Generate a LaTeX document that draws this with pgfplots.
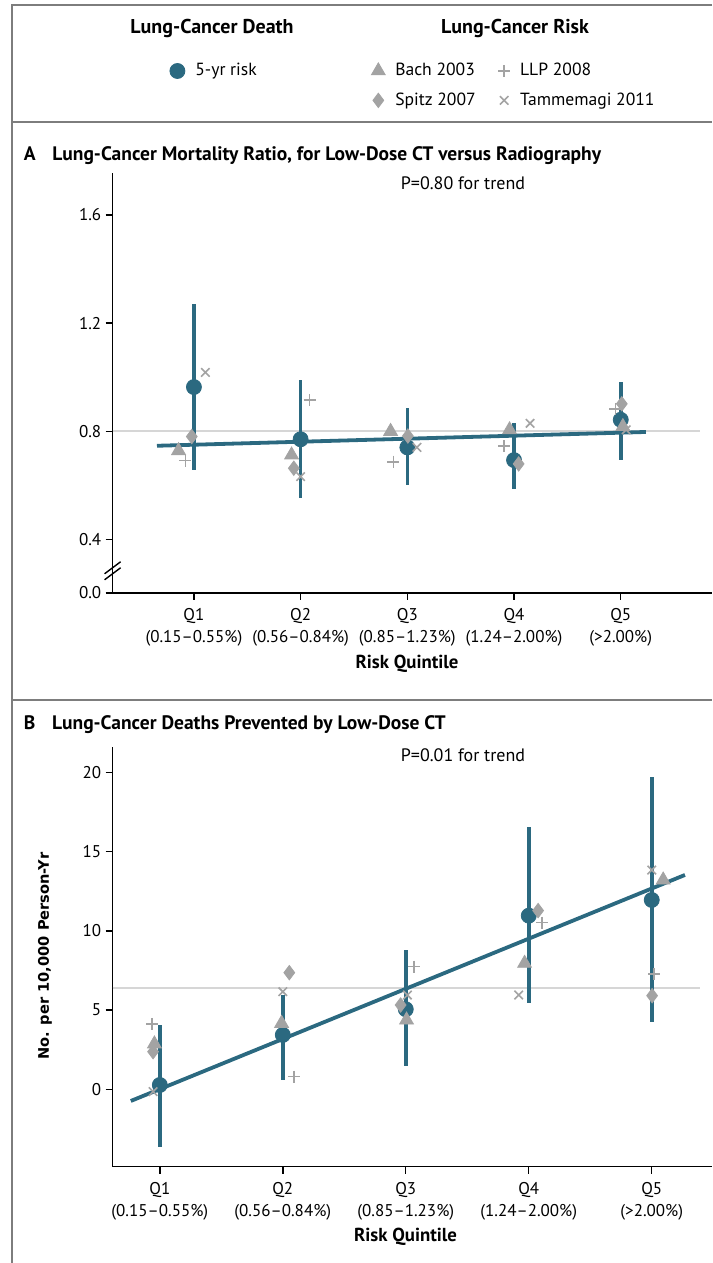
\documentclass[border=0pt]{standalone}
\usepackage{fontspec}
\setmainfont{PT Sans}
\newfontfamily\dvsans{DejaVu Sans}
\usepackage{pgfplots}
\usepackage{pgfplotstable}
\pgfplotsset{compat=1.18}

\definecolor{teal5}{RGB}{43,105,128}
\definecolor{mgray}{RGB}{163,163,163}
\definecolor{rgray}{RGB}{214,214,214}
\definecolor{fgray}{RGB}{125,125,125}

% 5-yr risk of lung-cancer death, with CI
\pgfplotstableread{
x y ep em
1 0.964 0.308 0.307
2 0.771 0.220 0.218
3 0.741 0.147 0.139
4 0.694 0.136 0.108
5 0.843 0.141 0.149
}\riskA
\pgfplotstableread{
x y ep em
1 0.27 3.79 3.89
2 3.43 2.52 2.84
3 5.05 3.74 3.58
4 10.96 5.58 5.53
5 11.95 7.75 7.68
}\riskB

\pgfplotsset{
  nejm/.style={
    scale only axis, anchor=south west, width=299.7pt,
    axis lines=left, axis line style={-, black, line width=0.7pt},
    tick align=outside, major tick length=3.5pt,
    tick style={black, line width=0.7pt},
    xtick={1,2,3,4,5},
    xticklabels={{Q1\\(0.15--0.55\%)},{Q2\\(0.56--0.84\%)},{Q3\\(0.85--1.23\%)},{Q4\\(1.24--2.00\%)},{Q5\\(>2.00\%)}},
    xticklabel style={align=center, font=\fontsize{8.5}{11.2}\selectfont, inner sep=2pt, yshift=-2pt},
    yticklabel style={font=\fontsize{8.5}{9}\selectfont, inner sep=2pt},
    /pgf/number format/assume math mode=true,
    clip=false,
  },
  ci/.style={teal5, only marks, mark=*, mark size=3.75pt,
    error bars/.cd, y dir=both, y explicit, error mark=none,
    error bar style={line width=1.8pt, teal5}},
  bach/.style={only marks, mgray, mark=triangle*, mark size=4pt},
  spitz/.style={only marks, mgray, mark=diamond*, mark size=3.6pt},
  llp/.style={only marks, mgray, mark=+, mark size=3pt, mark options={line width=0.8pt}},
  tamm/.style={only marks, mgray, mark=x, mark size=3pt, mark options={line width=0.8pt}},
  keybox/.style={anchor=center, hide axis, scale only axis, width=1pt, height=1pt,
    xmin=0, xmax=1, ymin=0, ymax=1,
    legend image code/.code={\draw[##1] plot coordinates {(0pt,0pt)};},
    legend cell align=left},
}

\begin{document}
\begin{tikzpicture}
\path[use as bounding box] (0pt,0pt) rectangle (356pt,631.5pt);
\draw[fgray, line width=1pt] (356pt,628.75pt) -- (5.75pt,628.75pt) -- (5.75pt,0pt);
\draw[fgray, line width=1pt] (5.75pt,570.25pt) -- (356pt,570.25pt);
\draw[fgray, line width=1pt] (5.75pt,281.25pt) -- (356pt,281.25pt);

% legend
\node[anchor=base, font=\fontsize{10}{12}\selectfont\bfseries] at (106pt,614.85pt) {Lung-Cancer Death};
\node[anchor=base, font=\fontsize{10}{12}\selectfont\bfseries] at (257.5pt,614.85pt) {Lung-Cancer Risk};
\begin{axis}[keybox, at={(84.75pt,596pt)},
  legend style={at={(0.5,0.5)}, anchor=west, draw=none, fill=none,
    inner sep=0pt, nodes={inner sep=0pt}, font=\fontsize{8.8}{10}\selectfont,
    /tikz/every odd column/.append style={column sep=5.25pt}}]
\addlegendimage{ci}
\addlegendentry{5-yr risk}
\end{axis}
\begin{axis}[keybox, at={(185.5pt,588.75pt)}, legend columns=2,
  legend style={at={(0.5,0.5)}, anchor=west, draw=none, fill=none,
    inner sep=0pt, nodes={inner sep=0pt}, font=\fontsize{8.8}{10}\selectfont,
    row sep=7pt,
    /tikz/every odd column/.append style={column sep=5pt},
    /tikz/every even column/.append style={column sep=11.2pt}}]
\addlegendimage{bach}
\addlegendentry{Bach 2003}
\addlegendimage{llp}
\addlegendentry{LLP 2008}
\addlegendimage{spitz}
\addlegendentry{Spitz 2007}
\addlegendimage{tamm}
\addlegendentry{Tammemagi 2011}
\end{axis}

% panel A
\node[anchor=base west, inner sep=0pt, font=\fontsize{9.75}{11}\selectfont\bfseries] at (11.8pt,551.15pt) {A\hspace{8.3pt}Lung-Cancer Mortality Ratio, for Low-Dose CT versus Radiography};
\begin{axis}[nejm, at={(56.3pt,335pt)}, height=210pt,
  xmin=0.238, xmax=5.855, ymin=0.203, ymax=1.755,
  ytick={0.203,0.4,0.8,1.2,1.6}, yticklabels={0.0,0.4,0.8,1.2,1.6}]
\addplot[rgray, line width=1pt] coordinates {(0.238,0.8) (5.74,0.8)};
\addplot[ci] table[x=x, y=y, y error plus=ep, y error minus=em] {\riskA};
\addplot[teal5, line width=1.9pt] coordinates {(0.654,0.747) (5.236,0.798)};
\addplot[bach] coordinates {(0.856,0.729) (1.915,0.713) (2.843,0.800) (3.958,0.806) (5.02,0.818)};
\addplot[spitz] coordinates {(0.98,0.781) (1.936,0.664) (3.005,0.783) (4.043,0.680) (5.01,0.902)};
\addplot[llp] coordinates {(0.92,0.692) (2.085,0.917) (2.87,0.688) (3.906,0.746) (4.95,0.883)};
\addplot[tamm] coordinates {(1.107,1.018) (2.0,0.633) (3.09,0.741) (4.15,0.830) (5.05,0.806)};
\draw[black, line width=0.7pt] ([xshift=-4pt,yshift=-4.5pt]axis cs:0.238,0.285) -- ([xshift=4pt,yshift=1.5pt]axis cs:0.238,0.285);
\draw[black, line width=0.7pt] ([xshift=-4pt,yshift=-1.5pt]axis cs:0.238,0.285) -- ([xshift=4pt,yshift=4.5pt]axis cs:0.238,0.285);
\end{axis}
\node[anchor=base, font=\fontsize{9}{10}\selectfont] at (231.5pt,536.5pt) {P=0.80 for trend};
\node[anchor=base, font=\fontsize{9.4}{10}\selectfont\bfseries] at (203.5pt,297pt) {Risk Quintile};

% panel B
\node[anchor=base west, inner sep=0pt, font=\fontsize{9.75}{11}\selectfont\bfseries] at (11.8pt,266.85pt) {B\hspace{8.3pt}Lung-Cancer Deaths Prevented by Low-Dose CT};
\begin{axis}[nejm, at={(56.3pt,48.15pt)}, height=209.7pt,
  xmin=0.616, xmax=5.49, ymin=-4.89, ymax=21.59,
  ytick={0,5,10,15,20}]
\addplot[rgray, line width=1pt] coordinates {(0.616,6.4) (5.39,6.4)};
\addplot[ci] table[x=x, y=y, y error plus=ep, y error minus=em] {\riskB};
\addplot[teal5, line width=1.9pt] coordinates {(0.764,-0.74) (5.27,13.53)};
\addplot[bach] coordinates {(0.956,2.86) (1.99,4.16) (3.006,4.37) (3.966,7.95) (5.093,13.21)};
\addplot[spitz] coordinates {(0.945,2.37) (2.053,7.36) (2.958,5.32) (4.076,11.28) (5.003,5.91)};
\addplot[llp] coordinates {(0.937,4.12) (2.09,0.80) (3.067,7.74) (4.106,10.52) (5.02,7.28)};
\addplot[tamm] coordinates {(0.945,-0.15) (2.0,6.16) (3.013,5.95) (3.918,5.95) (5.0,13.84)};
\end{axis}
\node[anchor=base, font=\fontsize{9}{10}\selectfont] at (231.5pt,250.65pt) {P=0.01 for trend};
\node[anchor=base, font=\fontsize{9.4}{10}\selectfont\bfseries] at (202.75pt,10.65pt) {Risk Quintile};
\node[rotate=90, font=\fontsize{7.3}{9}\dvsans\bfseries] at (22.5pt,153.5pt) {No. per 10,000 Person-Yr};
\end{tikzpicture}
\end{document}
